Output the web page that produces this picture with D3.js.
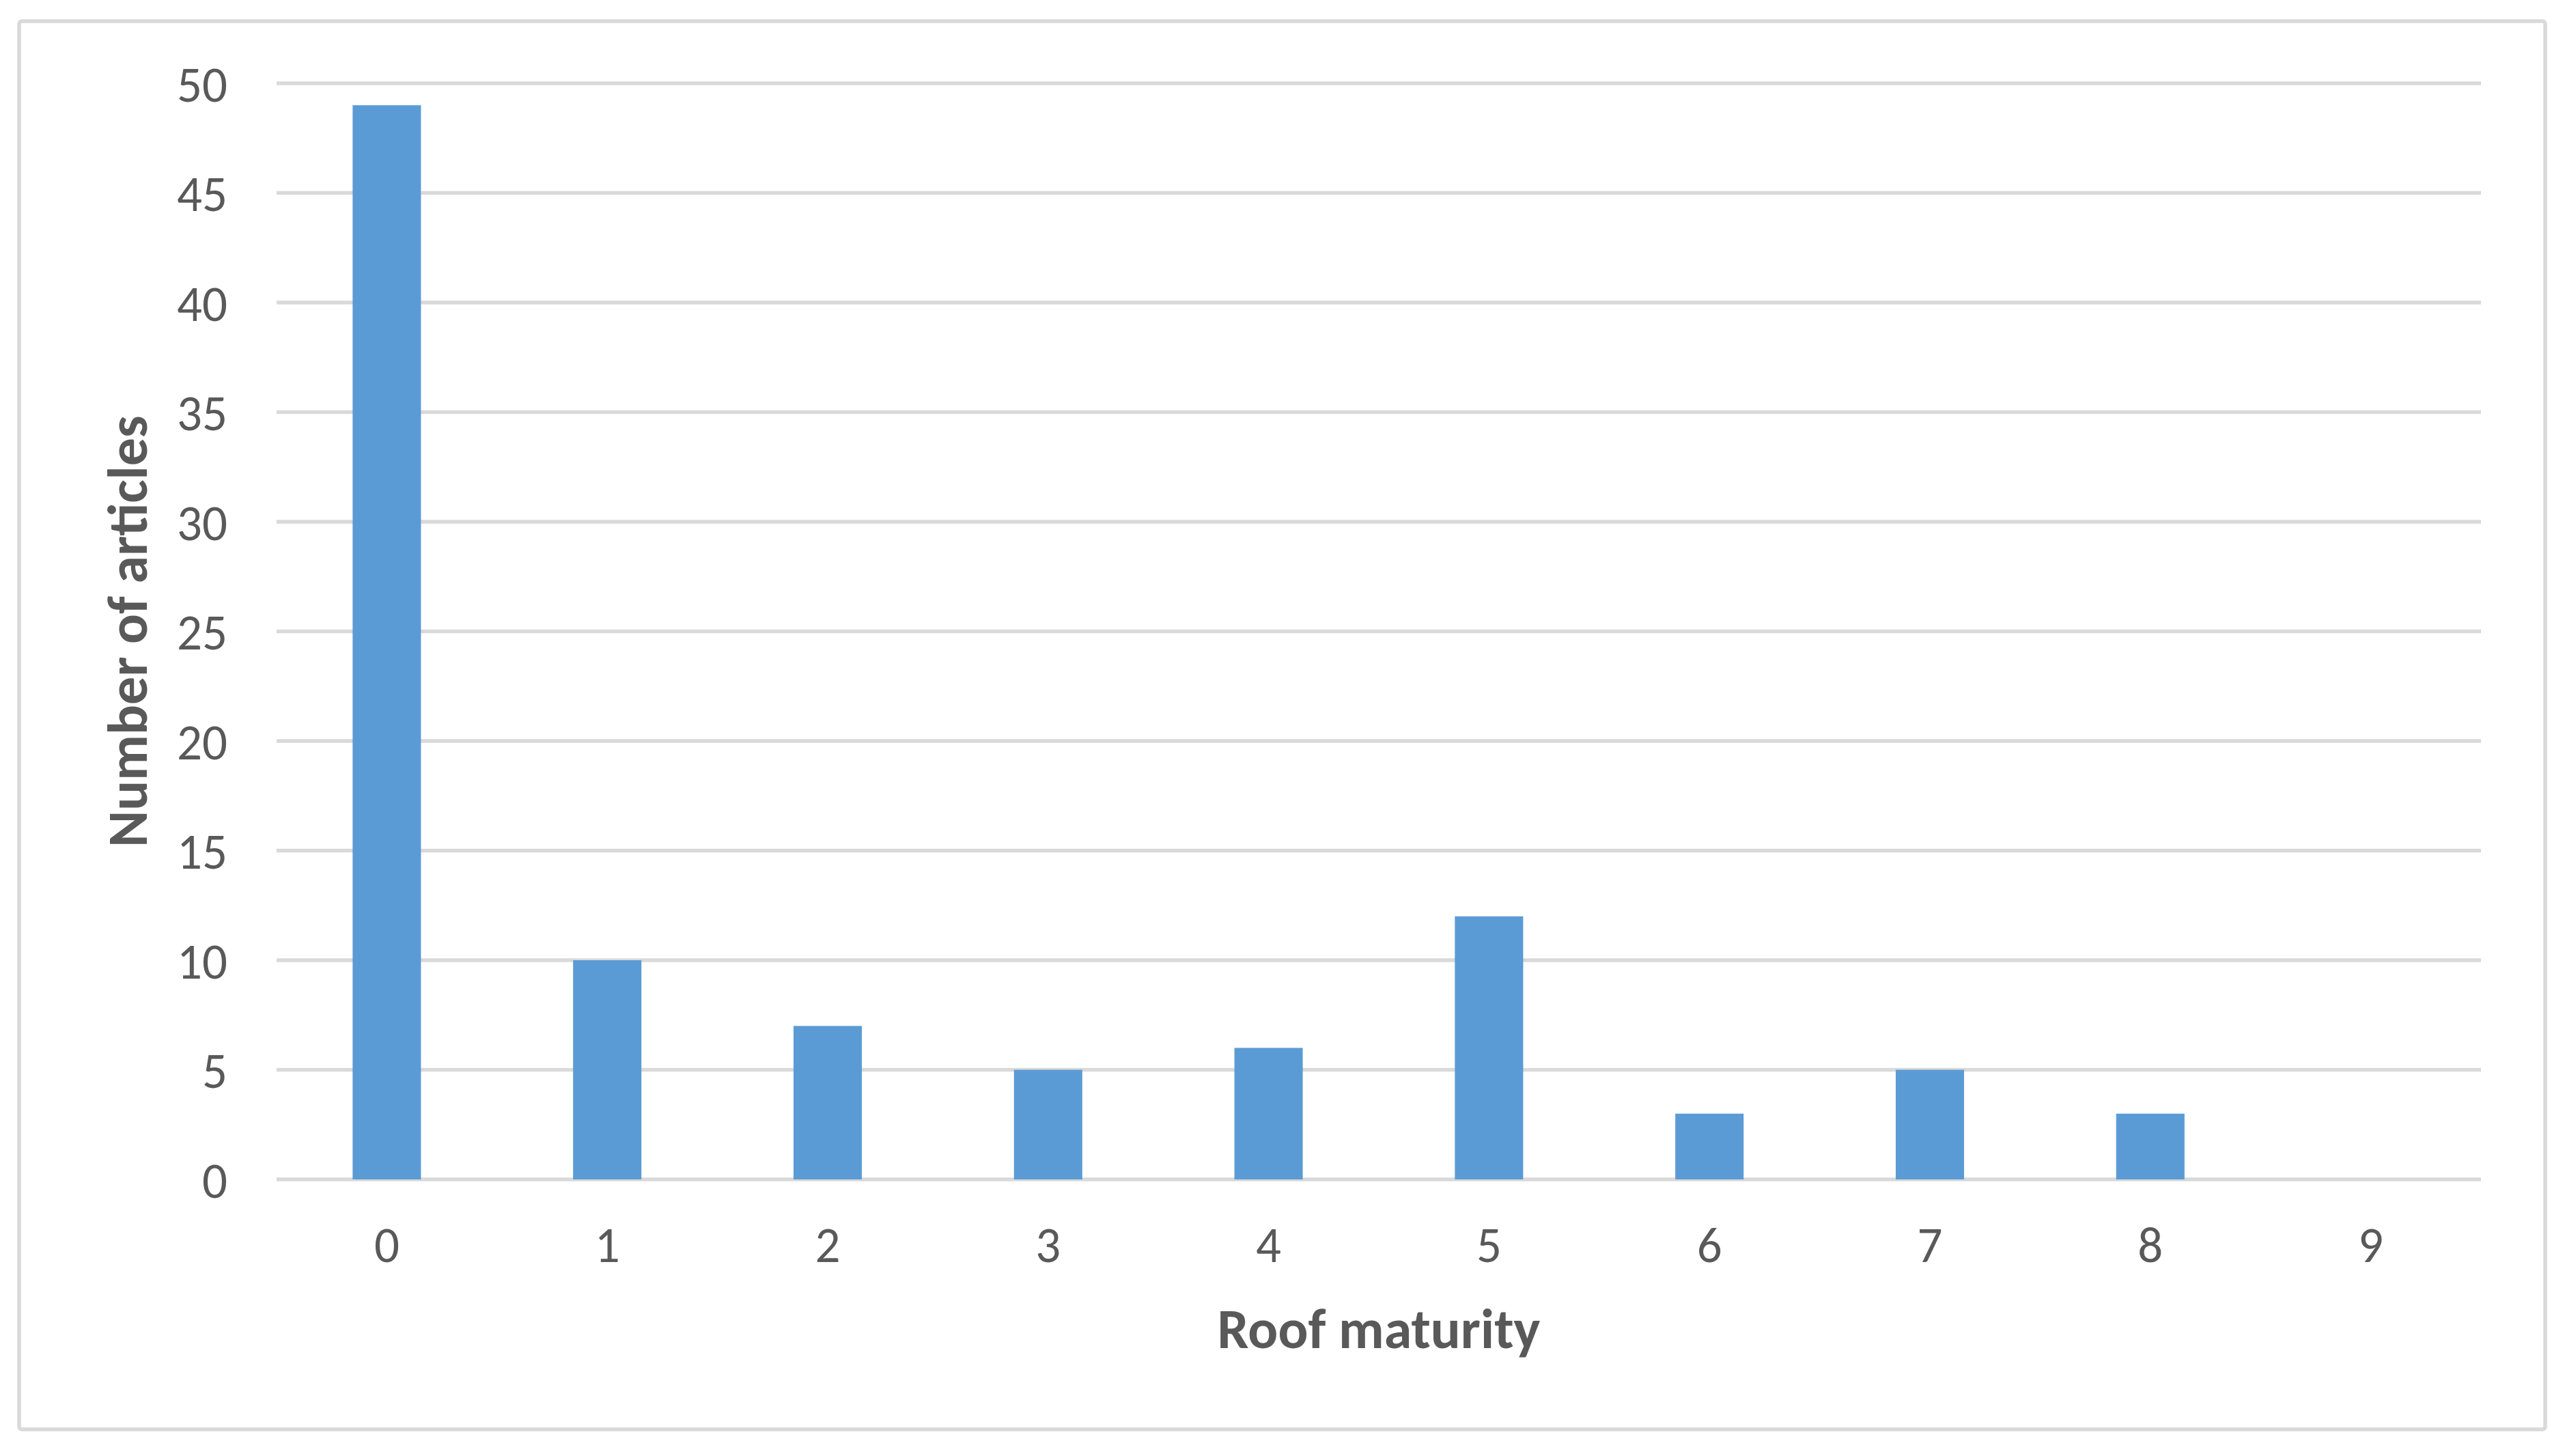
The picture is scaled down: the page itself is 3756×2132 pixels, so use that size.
<!DOCTYPE html>
<html>
<head>
<meta charset="utf-8">
<script src="https://cdn.jsdelivr.net/npm/d3@7"></script>
<style>
  body { margin: 0; background: #ffffff; }
  text { font-family: Carlito, Lato, "Open Sans", sans-serif; fill: #595959; }
</style>
</head>
<body>
<script>
// chart data
var categories = ["0", "1", "2", "3", "4", "5", "6", "7", "8", "9"];
var articles = [49, 10, 7, 5, 6, 12, 3, 5, 3, 0];
var yTicks = [0, 5, 10, 15, 20, 25, 30, 35, 40, 45, 50];

var W = 3756, H = 2132;
var margin = {top: 122, right: 123, bottom: 405, left: 405},
    width = W - margin.left - margin.right,
    height = 1727 - margin.top;

var svg = d3.select("body")
    .append("svg")
        .attr("width", W)
        .attr("height", H);

// outer frame
svg.append("rect")
    .attr("x", 28)
    .attr("y", 31)
    .attr("width", 3699)
    .attr("height", 2062)
    .attr("rx", 4)
    .style("fill", "#ffffff")
    .style("stroke", "#d9d9d9")
    .style("stroke-width", 5.5);

var g = svg.append("g")
    .attr("transform", "translate(" + margin.left + "," + margin.top + ")");

var x = d3.scaleBand()
    .domain(categories)
    .range([0, width])
    .paddingInner(0.69)
    .paddingOuter(0.345);

var y = d3.scaleLinear()
    .domain([0, 50])
    .range([height, 0]);

// gridlines
g.append("g")
    .selectAll("line")
    .data(yTicks)
    .join("line")
        .attr("x1", 0)
        .attr("x2", width)
        .attr("y1", function(d) { return y(d); })
        .attr("y2", function(d) { return y(d); })
        .style("stroke", "#d9d9d9")
        .style("stroke-width", 5.5);

// bars
g.append("g")
    .selectAll("rect")
    .data(articles)
    .join("rect")
        .attr("x", function(d, i) { return x(categories[i]); })
        .attr("y", function(d) { return y(d); })
        .attr("width", x.bandwidth())
        .attr("height", function(d) { return height - y(d); })
        .style("fill", "#5b9bd5");

// Y axis (labels only)
var yAxis = g.append("g")
    .call(d3.axisLeft(y).tickValues(yTicks).tickSize(0).tickPadding(72));
yAxis.select(".domain").remove();
yAxis.selectAll("text")
    .attr("dy", "0.36em")
    .style("font-size", "73px")
    .style("fill", "#595959");

// X axis (labels only)
var xAxis = g.append("g")
    .attr("transform", "translate(0," + height + ")")
    .call(d3.axisBottom(x).tickSize(0).tickPadding(68));
xAxis.select(".domain").remove();
xAxis.selectAll("text")
    .attr("dy", "0.72em")
    .style("font-size", "73px")
    .style("fill", "#595959");

// axis titles
svg.append("text")
    .attr("x", margin.left + width / 2)
    .attr("y", 1974)
    .style("text-anchor", "middle")
    .style("font-size", "82px")
    .style("font-weight", "bold")
    .text("Roof maturity");

svg.append("text")
    .attr("transform", "translate(215," + (margin.top + height / 2) + ") rotate(-90)")
    .style("text-anchor", "middle")
    .style("font-size", "82px")
    .style("font-weight", "bold")
    .text("Number of articles");
</script>
</body>
</html>
